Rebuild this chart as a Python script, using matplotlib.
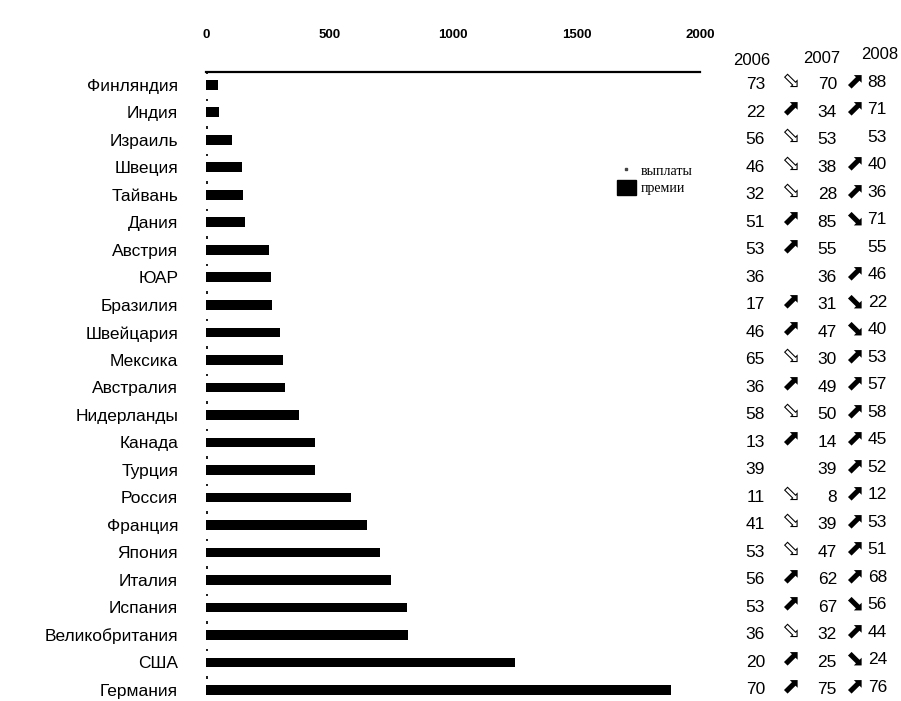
import matplotlib
matplotlib.use("Agg")
import matplotlib.pyplot as plt
from matplotlib.patches import Patch
from matplotlib.lines import Line2D
import matplotlib.transforms as mtransforms

countries = ["Финляндия", "Индия", "Израиль", "Швеция", "Тайвань", "Дания", "Австрия",
             "ЮАР", "Бразилия", "Швейцария", "Мексика", "Австралия", "Нидерланды",
             "Канада", "Турция", "Россия", "Франция", "Япония", "Италия", "Испания",
             "Великобритания", "США", "Германия"]
premii = [49, 51, 105, 147, 151, 159, 254, 264, 267, 301, 313, 321, 378, 440, 443,
          588, 653, 706, 749, 814, 818, 1251, 1883]
vyplaty = [8] * len(countries)

years = ["2006", "2007", "2008"]
v2006 = [73, 22, 56, 46, 32, 51, 53, 36, 17, 46, 65, 36, 58, 13, 39, 11, 41, 53, 56, 53, 36, 20, 70]
v2007 = [70, 34, 53, 38, 28, 85, 55, 36, 31, 47, 30, 49, 50, 14, 39, 8, 39, 47, 62, 67, 32, 25, 75]
v2008 = [88, 71, 53, 40, 36, 71, 55, 46, 22, 40, 53, 57, 58, 45, 52, 12, 53, 51, 68, 56, 44, 24, 76]

xticks = [0, 500, 1000, 1500, 2000]

W, H = 901, 701
fig = plt.figure(figsize=(W / 100, H / 100), dpi=100)
ax = fig.add_axes([206 / W, 0.0, 494 / W, 1 - 72 / H])

n = len(countries)
ypos = list(range(n))
ax.barh(ypos, premii, height=0.36, color="black", label="премии")
ax.barh([y - 0.45 for y in ypos], vyplaty, height=0.1, color="#222222", label="выплаты")

ax.set_xlim(0, 2000)
ax.set_ylim(22.4, -0.47)
ax.xaxis.tick_top()
ax.set_xticks(xticks)
ax.set_xticklabels([str(t) for t in xticks], fontsize=9.5, fontweight="bold",
                   family="Liberation Sans")
ax.tick_params(axis="x", length=0, pad=22)
ax.set_yticks(ypos)
ax.set_yticklabels(countries, fontsize=12.5, family="Liberation Sans")
ax.tick_params(axis="y", length=0, pad=20)
for s in ["bottom", "left", "right"]:
    ax.spines[s].set_visible(False)
ax.spines["top"].set_linewidth(1.6)

# legend
handles = [Line2D([], [], marker="s", markersize=1.5, color="#444444", linestyle="none"),
           Patch(facecolor="black", edgecolor="black")]
leg = fig.legend(handles, ["выплаты", "премии"], loc="upper left",
                 bbox_to_anchor=(604 / W, 1 - 150 / H),
                 frameon=False, prop={"family": "Liberation Serif", "size": 10},
                 handlelength=1.4, handleheight=1.3, handletextpad=0.35, labelspacing=0.15)

# table on the right
tr = mtransforms.blended_transform_factory(fig.transFigure, ax.transData)
numfont = {"family": ["Liberation Sans Narrow", "Liberation Sans"], "size": 12.5}
hdr_x = [752 / W, 822 / W, 880 / W]
hdr_y = [-0.9, -0.97, -1.12]
for yr, xx, yy in zip(years, hdr_x, hdr_y):
    ax.text(xx, yy, yr, transform=tr, ha="center", va="center", fontsize=12,
            family=["Liberation Sans Narrow", "Liberation Sans"], clip_on=False)


def arrow_glyph(a, b, col):
    if b > a:
        return "⬈"
    if b < a:
        return "⬂" if col == 0 else "⬊"
    return ""


for i in range(n):
    ax.text(765 / W, i, str(v2006[i]), transform=tr, ha="right", va="center",
            clip_on=False, **numfont)
    ax.text(837 / W, i, str(v2007[i]), transform=tr, ha="right", va="center",
            clip_on=False, **numfont)
    ax.text(887 / W, i - 0.1, str(v2008[i]), transform=tr, ha="right", va="center",
            clip_on=False, **numfont)
    g1 = arrow_glyph(v2006[i], v2007[i], 0)
    g2 = arrow_glyph(v2007[i], v2008[i], 1)
    if g1:
        ax.text(790 / W, i - 0.1, g1, transform=tr, ha="center", va="center",
                fontsize=16, family="DejaVu Sans", clip_on=False)
    if g2:
        ax.text(854 / W, i - 0.1, g2, transform=tr, ha="center", va="center",
                fontsize=16, family="DejaVu Sans", clip_on=False)

fig.savefig("out.png", dpi=100, facecolor="white")
